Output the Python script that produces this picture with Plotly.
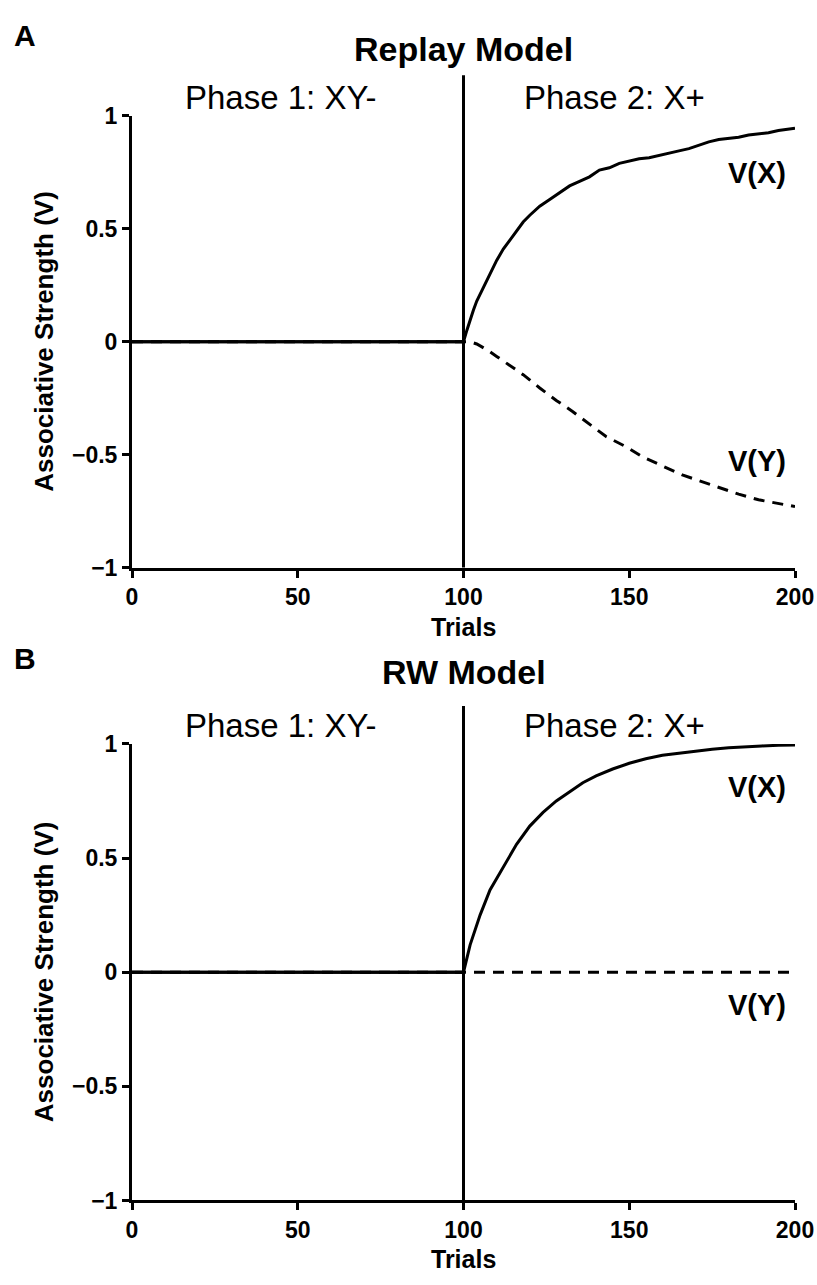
import plotly.graph_objects as go

# ---------------- data ----------------
# Panel A: Replay Model
replay_x_trials = [0, 100, 101, 102, 103, 104, 106, 108, 110, 112, 114, 116, 118, 120, 123, 126, 129,
                   132, 135, 138, 141, 144, 147, 150, 153, 156, 159, 162, 165, 168, 171, 174,
                   177, 180, 183, 186, 189, 192, 195, 198, 200]
replay_vx = [0.0, 0.0, 0.05, 0.10, 0.14, 0.18, 0.24, 0.30, 0.36, 0.41, 0.45, 0.49, 0.53, 0.56, 0.60, 0.63, 0.66,
             0.69, 0.71, 0.73, 0.76, 0.77, 0.79, 0.80, 0.81, 0.815, 0.826, 0.835, 0.845, 0.855, 0.87, 0.885,
             0.895, 0.90, 0.905, 0.915, 0.92, 0.925, 0.935, 0.94, 0.945]
replay_y_trials = [0, 100, 102, 104, 107, 110, 113, 118, 123, 128, 133, 138, 143, 149, 154, 160, 166,
                   171, 177, 183, 189, 196, 200]
replay_vy = [0.0, 0.0, 0.0, -0.01, -0.035, -0.065, -0.095, -0.146, -0.205, -0.26, -0.31, -0.365, -0.42,
             -0.465, -0.51, -0.55, -0.59, -0.615, -0.645, -0.675, -0.70, -0.72, -0.73]

# Panel B: RW Model
rw_x_trials = [0, 100, 102, 105, 108, 112, 116, 120, 124, 128, 132, 136, 140, 145, 150, 155, 160,
               165, 170, 175, 180, 185, 190, 195, 200]
rw_vx = [0.0, 0.0, 0.12, 0.25, 0.36, 0.46, 0.56, 0.64, 0.70, 0.75, 0.79, 0.83, 0.86, 0.89, 0.915, 0.935,
         0.95, 0.96, 0.97, 0.977, 0.983, 0.988, 0.991, 0.994, 0.995]
rw_y_trials = [0, 100, 200]
rw_vy = [0.0, 0.0, 0.0]

x_ticks = [0, 50, 100, 150, 200]
y_ticks = [-1, -0.5, 0, 0.5, 1]
y_ticklabels = ["\u22121", "\u22120.5", "0", "0.5", "1"]

panel_titles = ["Replay Model", "RW Model"]
panel_letters = ["A", "B"]
phase_labels = ["Phase 1: XY-", "Phase 2: X+"]
series_labels = ["V(X)", "V(Y)"]
phase_boundary = 100

# ---------------- layout constants ----------------
W, H = 817, 1285
L, R = 132, 795
A_top, A_bot = 105, 566
B_top, B_bot = 746, 1212

def py(p):
    return 1 - p / H

def px(p):
    return (p - L) / (R - L)

FONT = "Liberation Sans, Arial, Helvetica, sans-serif"
LW = 3
DASH = "11px,8px"

fig = go.Figure()

# Panel A traces
fig.add_trace(go.Scatter(x=replay_x_trials, y=replay_vx, mode="lines",
                         line=dict(color="black", width=LW), xaxis="x", yaxis="y", showlegend=False))
fig.add_trace(go.Scatter(x=replay_y_trials, y=replay_vy, mode="lines",
                         line=dict(color="black", width=LW, dash=DASH), xaxis="x", yaxis="y",
                         showlegend=False))
fig.add_trace(go.Scatter(x=[0, phase_boundary], y=[0, 0], mode="lines",
                         line=dict(color="black", width=LW), xaxis="x", yaxis="y", showlegend=False))
# Panel B traces
fig.add_trace(go.Scatter(x=rw_x_trials, y=rw_vx, mode="lines",
                         line=dict(color="black", width=LW), xaxis="x2", yaxis="y2", showlegend=False))
fig.add_trace(go.Scatter(x=rw_y_trials, y=rw_vy, mode="lines",
                         line=dict(color="black", width=LW, dash=DASH), xaxis="x2", yaxis="y2",
                         showlegend=False))
fig.add_trace(go.Scatter(x=[0, phase_boundary], y=[0, 0], mode="lines",
                         line=dict(color="black", width=LW), xaxis="x2", yaxis="y2", showlegend=False))

axis_common = dict(showline=True, linecolor="black", linewidth=LW, ticks="outside", ticklen=7,
                   tickwidth=LW, tickcolor="black", showgrid=False, zeroline=False,
                   tickfont=dict(family=FONT, size=23, color="black", weight="bold"))

fig.update_layout(
    width=W, height=H,
    margin=dict(l=L, r=W - R, t=0, b=0),
    paper_bgcolor="white", plot_bgcolor="white",
    xaxis=dict(domain=[0, 1], anchor="y", range=[0, 200], tickvals=x_ticks, **axis_common),
    yaxis=dict(domain=[py(A_bot), py(A_top)], anchor="x", range=[-1, 1], tickvals=y_ticks,
               ticktext=y_ticklabels, **axis_common),
    xaxis2=dict(domain=[0, 1], anchor="y2", range=[0, 200], tickvals=x_ticks, **axis_common),
    yaxis2=dict(domain=[py(B_bot), py(B_top)], anchor="x2", range=[-1, 1], tickvals=y_ticks,
                ticktext=y_ticklabels, **axis_common),
)

# phase boundary lines (extend above the top of each plot)
for xr, yr, ytop in [("x", "y", 1.09), ("x2", "y2", 1.083)]:
    fig.add_shape(type="line", xref=f"{xr} domain", yref=f"{yr} domain",
                  x0=phase_boundary / 200, x1=phase_boundary / 200, y0=0, y1=ytop,
                  line=dict(color="black", width=LW), layer="above")

ann = []
panels = [(A_top, A_bot, 0, 37, 23, 163, 457, 627),
          (B_top, B_bot, 1, 673, 659, 790, 1012, 1272)]
for top, bot, i, title_y, letter_y, vx_y, vy_y, trials_y in panels:
    ann.append(dict(text=f"<b>{panel_titles[i]}</b>", xref="paper", yref="paper", x=0.5, y=py(title_y),
                    xanchor="center", yanchor="middle", showarrow=False,
                    font=dict(family=FONT, size=34, color="black")))
    ann.append(dict(text=f"<b>{panel_letters[i]}</b>", xref="paper", yref="paper", x=px(25), y=py(letter_y),
                    xanchor="center", yanchor="middle", showarrow=False,
                    font=dict(family=FONT, size=30, color="black")))
    ann.append(dict(text=phase_labels[0], xref="paper", yref="paper", x=px(280), y=py(top - 19),
                    xanchor="center", yanchor="middle", showarrow=False,
                    font=dict(family=FONT, size=33, color="black")))
    ann.append(dict(text=phase_labels[1], xref="paper", yref="paper", x=px(614), y=py(top - 19),
                    xanchor="center", yanchor="middle", showarrow=False,
                    font=dict(family=FONT, size=33, color="black")))
    ann.append(dict(text=f"<b>{series_labels[0]}</b>", xref="paper", yref="paper", x=px(757), y=py(vx_y),
                    xanchor="center", yanchor="middle", showarrow=False,
                    font=dict(family=FONT, size=29, color="black")))
    ann.append(dict(text=f"<b>{series_labels[1]}</b>", xref="paper", yref="paper", x=px(757), y=py(vy_y),
                    xanchor="center", yanchor="middle", showarrow=False,
                    font=dict(family=FONT, size=29, color="black")))
    ann.append(dict(text="<b>Associative Strength (V)</b>", xref="paper", yref="paper", x=px(44),
                    y=py((top + bot) / 2), xanchor="center", yanchor="middle", textangle=-90,
                    showarrow=False, font=dict(family=FONT, size=26, color="black")))
    ann.append(dict(text="<b>Trials</b>", xref="paper", yref="paper", x=0.5, y=py(trials_y),
                    xanchor="center", yanchor="middle", showarrow=False,
                    font=dict(family=FONT, size=25, color="black")))

fig.update_layout(annotations=ann)
fig.write_html("out.html", config={"displayModeBar": False},
               post_script="document.body.style.margin='0px';document.body.style.overflow='hidden';")
